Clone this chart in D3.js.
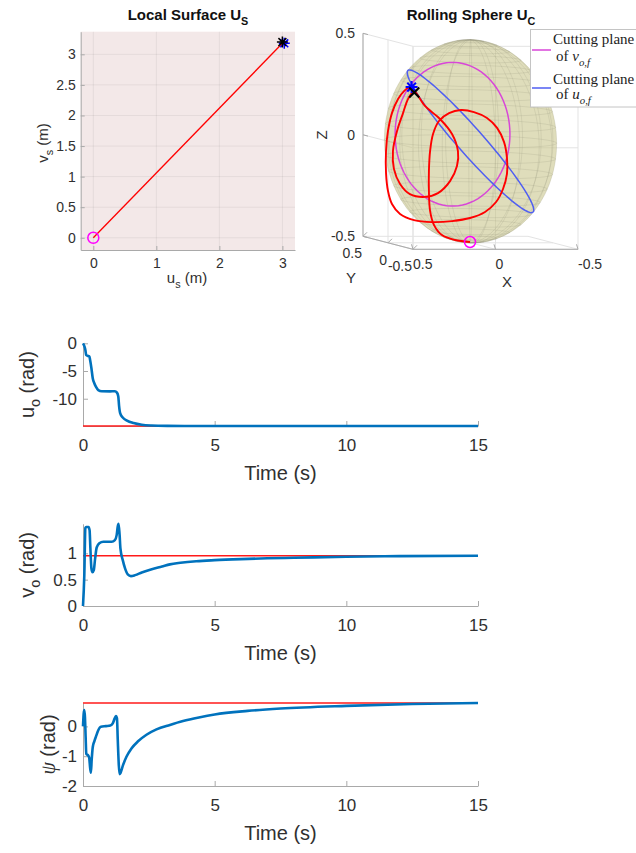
<!DOCTYPE html>
<html>
<head>
<meta charset="utf-8">
<script src="https://cdn.jsdelivr.net/npm/d3@7"></script>
<style>
  html, body { margin: 0; padding: 0; background: #ffffff; }
  svg { display: block; }
</style>
</head>
<body>
<svg id="fig" width="636" height="853"></svg>
<script>
// ---------------- data ----------------
// local surface trajectory (metres)
const surfaceU = [0, 3.0];
const surfaceV = [0, 3.18];
const surfaceStart = [0, 0];
const surfaceTarget = [3.03, 3.18];
const surfaceFinal = [3.0, 3.2];
const surfaceXTicks = [0, 1, 2, 3];
const surfaceYTicks = [0, 0.5, 1, 1.5, 2, 2.5, 3];

// rolling sphere (radius 0.5), contact path given in the X-Z view plane
const sphereRadius = 0.5;
const sphereTicks = [-0.5, 0, 0.5];
const pathX = [0.003, 0.094, 0.173, 0.221, 0.245, 0.252, 0.252, 0.245, 0.227, 0.191, 0.130, 0.058,
  -0.021, -0.100, -0.161, -0.203, -0.221, -0.221, -0.197, -0.155, -0.088, 0.003, 0.112, 0.233,
  0.342, 0.427, 0.476, 0.500, 0.512, 0.512, 0.500, 0.476, 0.439, 0.403, 0.367, 0.330, 0.276,
  0.185, 0.112, 0.076, 0.082, 0.124, 0.197, 0.276, 0.367, 0.427, 0.464, 0.470, 0.445, 0.409,
  0.379, 0.348];
const pathZ = [-0.496, -0.486, -0.462, -0.413, -0.343, -0.245, -0.146, -0.048, 0.036, 0.100, 0.139, 0.154,
  0.144, 0.115, 0.066, -0.003, -0.082, -0.161, -0.235, -0.299, -0.348, -0.378, -0.393, -0.398,
  -0.388, -0.358, -0.309, -0.245, -0.157, -0.048, 0.051, 0.139, 0.208, 0.247, 0.267, 0.238, 0.174,
  0.110, 0.036, -0.048, -0.122, -0.196, -0.255, -0.274, -0.260, -0.210, -0.136, -0.048, 0.051, 0.139,
  0.208, 0.248];
const sphereStart = [0.003, -0.496];
const sphereTarget = [0.357, 0.267];
const sphereFinal = [0.341, 0.240];
// cutting planes: [centre x, centre z, axis1 x, axis1 z, axis2 x, axis2 z]
const cutPlaneV = [0.109, 0.035, 0.348, 0, 0, 0.354];
const cutPlaneU = [0, 0, -0.379, -0.349, 0.059, -0.042];

// time histories
const timeTicks = [0, 5, 10, 15];
const tU = [0, 0.05, 0.09, 0.12, 0.17, 0.24, 0.27, 0.32, 0.37, 0.43, 0.50, 0.58, 0.71, 1.03, 1.21,
  1.29, 1.34, 1.37, 1.41, 1.51, 1.67, 1.92, 2.23, 2.6, 3.2, 4, 5, 15];
const uo = [0, -0.5, -1.2, -2.1, -2.25, -2.35, -3.0, -4.5, -6.3, -7.2, -7.9, -8.45, -8.65, -8.67, -8.65,
  -8.9, -9.6, -11.3, -12.6, -13.4, -13.95, -14.4, -14.7, -14.83, -14.89, -14.91, -14.92, -14.92];
const uoTarget = -14.92;
const uoTicks = [-10, -5, 0];

const tV = [0, 0.05, 0.09, 0.12, 0.21, 0.25, 0.28, 0.32, 0.36, 0.41, 0.46, 0.52, 0.62, 0.77, 1.09, 1.21,
  1.28, 1.32, 1.35, 1.39, 1.42, 1.51, 1.6, 1.7, 1.82, 1.98, 2.23, 2.55, 3.0, 3.3, 3.7, 4.3, 5, 6, 7, 8,
  10, 12, 15];
const vo = [0, 0.59, 1.48, 1.50, 1.50, 1.44, 1.10, 0.71, 0.64, 0.68, 0.90, 1.11, 1.19, 1.22, 1.22, 1.25,
  1.35, 1.51, 1.56, 1.35, 1.10, 0.87, 0.71, 0.60, 0.567, 0.586, 0.637, 0.69, 0.75, 0.79, 0.82, 0.85,
  0.87, 0.89, 0.905, 0.915, 0.935, 0.947, 0.955];
const voTarget = 0.955;
const voTicks = [0, 0.5, 1];

const tPsi = [0, 0.025, 0.05, 0.075, 0.1, 0.125, 0.2, 0.235, 0.27, 0.3, 0.33, 0.37, 0.43, 0.5, 0.56,
  0.68, 0.87, 1.04, 1.13, 1.2, 1.25, 1.29, 1.32, 1.36, 1.39, 1.42, 1.52, 1.65, 1.84, 2.09, 2.41, 2.79,
  3.3, 3.8, 4.4, 5, 6.25, 7.5, 10, 12.5, 15];
const psi = [0, 0.42, 0.55, 0.3, -0.35, -0.92, -0.98, -1.05, -1.38, -1.55, -1.12, -0.7, -0.5, -0.32,
  -0.17, -0.01, 0.01, 0.03, 0.1, 0.26, 0.35, 0.27, -0.45, -1.3, -1.6, -1.57, -1.3, -1.02, -0.74, -0.5,
  -0.28, -0.1, 0.05, 0.18, 0.3, 0.4, 0.52, 0.6, 0.69, 0.75, 0.785];
const psiTarget = 0.785;
const psiTicks = [-2, -1, 0];

// ---------------- helpers ----------------
const SANS = '"Liberation Sans", Arial, Helvetica, sans-serif';
const SERIF = '"Liberation Serif", "Times New Roman", serif';
const AXIS_GREY = '#a9a9a9';
const TEXT_GREY = '#303030';
const svg = d3.select('#fig');

// text made of plain / subscript / italic parts
function richText(sel, parts, size) {
  let shifted = 0;
  parts.forEach(([txt, mode, family]) => {
    const t = sel.append('tspan').text(txt);
    if (family) t.attr('font-family', family);
    if (mode === 'sub' || mode === 'subit') {
      t.attr('font-size', size * 0.72).attr('dy', size * 0.32 - shifted);
      if (mode === 'subit') t.attr('font-style', 'italic');
      shifted = size * 0.32;
    } else {
      if (shifted) t.attr('dy', -shifted);
      shifted = 0;
      if (mode === 'it') t.attr('font-style', 'italic');
    }
  });
  return sel;
}

function asterisk(cx, cy, r) {
  const d = r * 0.72;
  return `M${cx - r},${cy}L${cx + r},${cy}M${cx},${cy - r}L${cx},${cy + r}` +
         `M${cx - d},${cy - d}L${cx + d},${cy + d}M${cx - d},${cy + d}L${cx + d},${cy - d}`;
}
function cross(cx, cy, r) {
  return `M${cx - r},${cy - r}L${cx + r},${cy + r}M${cx - r},${cy + r}L${cx + r},${cy - r}`;
}
function styleAxis(a, size) {
  a.attr('font-family', SANS).attr('font-size', size);
  a.select('.domain').attr('stroke', AXIS_GREY);
  a.selectAll('.tick line').attr('stroke', AXIS_GREY);
  a.selectAll('.tick text').attr('fill', TEXT_GREY);
}

// ---------------- local surface panel ----------------
{
  const g = svg.append('g');
  const xs = d3.scaleLinear().domain([-0.2, 3.2]).range([80.7, 295]);
  const ys = d3.scaleLinear().domain([-0.2, 3.37]).range([250, 31.7]);

  g.append('rect')
    .attr('x', xs.range()[0]).attr('y', ys.range()[1])
    .attr('width', xs.range()[1] - xs.range()[0])
    .attr('height', ys.range()[0] - ys.range()[1])
    .attr('fill', '#f3e8e8');

  g.selectAll('line.gx').data(surfaceXTicks).join('line')
    .attr('x1', d => xs(d)).attr('x2', d => xs(d))
    .attr('y1', ys.range()[0]).attr('y2', ys.range()[1])
    .attr('stroke', '#000').attr('stroke-opacity', 0.06);
  g.selectAll('line.gy').data(surfaceYTicks).join('line')
    .attr('y1', d => ys(d)).attr('y2', d => ys(d))
    .attr('x1', xs.range()[0]).attr('x2', xs.range()[1])
    .attr('stroke', '#000').attr('stroke-opacity', 0.06);

  const ax = g.append('g').attr('transform', `translate(0,${ys.range()[0]})`)
    .call(d3.axisBottom(xs).tickValues(surfaceXTicks).tickSizeInner(-4).tickSizeOuter(0)
      .tickPadding(8).tickFormat(d => String(d)));
  const ay = g.append('g').attr('transform', `translate(${xs.range()[0]},0)`)
    .call(d3.axisLeft(ys).tickValues(surfaceYTicks).tickSizeInner(-4).tickSizeOuter(0)
      .tickPadding(5).tickFormat(d => String(d)));
  styleAxis(ax, 14); styleAxis(ay, 14);

  g.append('path')
    .datum(surfaceU.map((u, i) => [u, surfaceV[i]]))
    .attr('d', d3.line().x(d => xs(d[0])).y(d => ys(d[1])))
    .attr('fill', 'none').attr('stroke', '#ff0000').attr('stroke-width', 1.3);

  g.append('circle').attr('cx', xs(surfaceStart[0])).attr('cy', ys(surfaceStart[1])).attr('r', 5.5)
    .attr('fill', 'none').attr('stroke', '#ff00ff').attr('stroke-width', 1.5);
  g.append('path').attr('d', asterisk(xs(surfaceTarget[0]), ys(surfaceTarget[1]), 5.5))
    .attr('stroke', '#0000ff').attr('stroke-width', 1.5);
  g.append('path').attr('d', asterisk(xs(surfaceFinal[0]), ys(surfaceFinal[1]), 5.5))
    .attr('stroke', '#000').attr('stroke-width', 1.5);

  richText(g.append('text').attr('x', 188).attr('y', 20).attr('text-anchor', 'middle')
    .attr('font-family', SANS).attr('font-weight', 'bold').attr('font-size', 15).attr('fill', '#111'),
    [['Local Surface U'], ['S', 'sub']], 15);
  richText(g.append('text').attr('x', 187).attr('y', 283).attr('text-anchor', 'middle')
    .attr('font-family', SANS).attr('font-size', 15).attr('fill', TEXT_GREY),
    [['u'], ['s', 'sub'], [' (m)']], 15);
  richText(g.append('text').attr('transform', 'translate(48,143) rotate(-90)').attr('text-anchor', 'middle')
    .attr('font-family', SANS).attr('font-size', 15).attr('fill', TEXT_GREY),
    [['v'], ['s', 'sub'], [' (m)']], 15);
}

// ---------------- rolling sphere panel ----------------
{
  const g = svg.append('g');
  // oblique projection of the X, Y, Z axes onto the page
  const sx = d3.scaleLinear().domain([0.5, -0.5]).range([413, 578]);
  const sz = d3.scaleLinear().domain([-0.5, 0.5]).range([249.3, 46.3]);
  const syH = d3.scaleLinear().domain([-0.5, 0.5]).range([0, -50]);
  const syV = d3.scaleLinear().domain([-0.5, 0.5]).range([0, -13]);
  const proj = (x, y, z) => [sx(x) + syH(y), sz(z) + syV(y)];
  const line = d3.line();

  // grid on the back walls and floor
  const walls = [];
  sphereTicks.forEach(v => {
    walls.push([proj(0.5, v, -0.5), proj(0.5, v, 0.5)]);     // x = 0.5 wall
    walls.push([proj(0.5, -0.5, v), proj(0.5, 0.5, v)]);
    walls.push([proj(v, -0.5, -0.5), proj(v, -0.5, 0.5)]);   // y = -0.5 wall
    walls.push([proj(0.5, -0.5, v), proj(-0.5, -0.5, v)]);
    walls.push([proj(v, -0.5, -0.5), proj(v, 0.5, -0.5)]);   // floor
    walls.push([proj(0.5, v, -0.5), proj(-0.5, v, -0.5)]);
  });
  g.selectAll('path.wall').data(walls).join('path')
    .attr('d', line).attr('fill', 'none').attr('stroke', '#e3e3e3').attr('stroke-width', 1);

  // axis lines
  const axes = [
    [proj(0.5, 0.5, -0.5), proj(0.5, 0.5, 0.5)],
    [proj(0.5, 0.5, -0.5), proj(0.5, -0.5, -0.5)],
    [proj(0.5, -0.5, -0.5), proj(-0.5, -0.5, -0.5)]
  ];
  g.selectAll('path.axis').data(axes).join('path')
    .attr('d', line).attr('fill', 'none').attr('stroke', AXIS_GREY).attr('stroke-width', 1);

  // tick marks and labels
  const lbl = g.append('g').attr('font-family', SANS).attr('font-size', 14).attr('fill', TEXT_GREY);
  sphereTicks.forEach(v => {
    const pz = proj(0.5, 0.5, v);
    g.append('path').attr('d', line([pz, [pz[0] + 5, pz[1] + 1.3]])).attr('stroke', AXIS_GREY);
    lbl.append('text').attr('x', pz[0] - 8).attr('y', pz[1] + 5).attr('text-anchor', 'end').text(String(v));
    const py = proj(0.5, v, -0.5);
    g.append('path').attr('d', line([py, [py[0] + 4, py[1] - 4]])).attr('stroke', AXIS_GREY);
    lbl.append('text').attr('x', py[0] - 1).attr('y', py[1] + 22).attr('text-anchor', 'end').text(String(v));
    const px = proj(v, -0.5, -0.5);
    g.append('path').attr('d', line([px, [px[0] - 1.5, px[1] - 5]])).attr('stroke', AXIS_GREY);
    lbl.append('text').attr('x', px[0]).attr('y', px[1] + 20).attr('text-anchor', 'start').text(String(v));
  });
  lbl.append('text').attr('x', 351).attr('y', 283).attr('text-anchor', 'middle').attr('font-size', 15).text('Y');
  lbl.append('text').attr('x', 507).attr('y', 287).attr('text-anchor', 'middle').attr('font-size', 15).text('X');
  lbl.append('text').attr('transform', 'translate(327,135) rotate(-90)').attr('text-anchor', 'middle')
    .attr('font-size', 15).text('Z');

  // sphere silhouette from the projection's view direction
  const c0 = proj(0, 0, 0);
  const col = (ax) => [proj(...ax)[0] - c0[0], proj(...ax)[1] - c0[1]];
  const ex = col([1, 0, 0]), ey = col([0, 1, 0]), ez = col([0, 0, 1]);
  const rowA = [ex[0], ey[0], ez[0]], rowB = [ex[1], ey[1], ez[1]];
  const crossV = (a, b) => [a[1] * b[2] - a[2] * b[1], a[2] * b[0] - a[0] * b[2], a[0] * b[1] - a[1] * b[0]];
  const norm = a => { const l = Math.hypot(...a); return a.map(v => v / l); };
  const view = norm(crossV(rowA, rowB));
  const e1 = norm(crossV(view, [0, 0, 1]));
  const e2 = crossV(view, e1);
  const outline = d3.range(0, 361, 3).map(a => {
    const t = a * Math.PI / 180;
    const p = [0, 1, 2].map(k => sphereRadius * (Math.cos(t) * e1[k] + Math.sin(t) * e2[k]));
    return proj(...p);
  });
  g.append('path').attr('d', line(outline) + 'Z')
    .attr('fill', '#c8c48a').attr('fill-opacity', 0.58).attr('stroke', 'none');

  // latitude / longitude mesh
  const mesh = [];
  for (let lat = -81; lat <= 81; lat += 9) {
    const f = lat * Math.PI / 180;
    mesh.push(d3.range(0, 361, 6).map(a => {
      const t = a * Math.PI / 180;
      return proj(sphereRadius * Math.cos(f) * Math.cos(t), sphereRadius * Math.cos(f) * Math.sin(t), sphereRadius * Math.sin(f));
    }));
  }
  for (let lon = 0; lon < 360; lon += 18) {
    const t = lon * Math.PI / 180;
    mesh.push(d3.range(-90, 91, 6).map(a => {
      const f = a * Math.PI / 180;
      return proj(sphereRadius * Math.cos(f) * Math.cos(t), sphereRadius * Math.cos(f) * Math.sin(t), sphereRadius * Math.sin(f));
    }));
  }
  g.selectAll('path.mesh').data(mesh).join('path')
    .attr('d', line).attr('fill', 'none').attr('stroke', '#8a8a72').attr('stroke-opacity', 0.22).attr('stroke-width', 0.8);

  // cutting planes
  const planeLine = d3.line().x(d => proj(d[0], 0, d[1])[0]).y(d => proj(d[0], 0, d[1])[1]);
  const ellipse = p => d3.range(0, 361, 4).map(a => {
    const t = a * Math.PI / 180;
    return [p[0] + Math.cos(t) * p[2] + Math.sin(t) * p[4], p[1] + Math.cos(t) * p[3] + Math.sin(t) * p[5]];
  });
  g.append('path').datum(ellipse(cutPlaneV)).attr('d', planeLine)
    .attr('fill', 'none').attr('stroke', '#d846d8').attr('stroke-width', 1.5);
  g.append('path').datum(ellipse(cutPlaneU)).attr('d', planeLine)
    .attr('fill', 'none').attr('stroke', '#4f5ef2').attr('stroke-width', 1.5);

  // contact path
  g.append('path').datum(pathX.map((x, i) => [x, pathZ[i]]))
    .attr('d', planeLine.curve(d3.curveCatmullRom.alpha(0.5)))
    .attr('fill', 'none').attr('stroke', '#ff0000').attr('stroke-width', 1.9);

  const s = proj(sphereStart[0], 0, sphereStart[1]);
  g.append('circle').attr('cx', s[0]).attr('cy', s[1]).attr('r', 5.5)
    .attr('fill', 'none').attr('stroke', '#ff00ff').attr('stroke-width', 1.5);
  const tg = proj(sphereTarget[0], 0, sphereTarget[1]);
  g.append('path').attr('d', asterisk(tg[0], tg[1], 6)).attr('stroke', '#0000ff').attr('stroke-width', 2);
  const fn = proj(sphereFinal[0], 0, sphereFinal[1]);
  g.append('path').attr('d', cross(fn[0], fn[1], 5)).attr('stroke', '#000').attr('stroke-width', 2);

  richText(g.append('text').attr('x', 471).attr('y', 20).attr('text-anchor', 'middle')
    .attr('font-family', SANS).attr('font-weight', 'bold').attr('font-size', 15).attr('fill', '#111'),
    [['Rolling Sphere U'], ['C', 'sub']], 15);

  // legend
  const lg = g.append('g');
  lg.append('rect').attr('x', 530.5).attr('y', 29.5).attr('width', 130).attr('height', 77.5)
    .attr('fill', '#fff').attr('stroke', '#c4c4c4');
  const entries = [['#d846d8', 'v', 44, 61, 50], ['#4f5ef2', 'u', 84, 99, 88]];
  entries.forEach(([c, sym, y1, y2, yl]) => {
    lg.append('line').attr('x1', 532).attr('x2', 551).attr('y1', yl).attr('y2', yl)
      .attr('stroke', c).attr('stroke-width', 1.5);
    lg.append('text').attr('x', 553).attr('y', y1).attr('font-family', SERIF).attr('font-size', 15)
      .attr('fill', '#222').text('Cutting plane');
    richText(lg.append('text').attr('x', 556).attr('y', y2).attr('font-family', SERIF).attr('font-size', 15)
      .attr('fill', '#222'), [['of '], [sym, 'it'], ['o,f', 'subit']], 15);
  });
}

// ---------------- time history panels ----------------
function timePanel(o) {
  const g = svg.append('g');
  const x = d3.scaleLinear().domain([0, 15]).range([83, 478]);
  const y = d3.scaleLinear().domain(o.domain).range([o.bottom, o.top]);

  const ax = g.append('g').attr('transform', `translate(0,${o.bottom})`)
    .call(d3.axisBottom(x).tickValues(timeTicks).tickSizeInner(-5).tickSizeOuter(0)
      .tickPadding(13).tickFormat(d => String(d)));
  const ay = g.append('g').attr('transform', `translate(${x.range()[0]},0)`)
    .call(d3.axisLeft(y).tickValues(o.ticks).tickSizeInner(-5).tickSizeOuter(0)
      .tickPadding(6).tickFormat(d => String(d)));
  styleAxis(ax, 17); styleAxis(ay, 17);

  g.append('path').datum(timeTicks.filter((d, i) => i === 0 || i === timeTicks.length - 1))
    .attr('d', d3.line().x(d => x(d)).y(() => y(o.target)))
    .attr('fill', 'none').attr('stroke', '#ff1a1a').attr('stroke-width', 1.6);
  g.append('path').datum(o.t.map((t, i) => [t, o.v[i]]))
    .attr('d', d3.line().x(d => x(d[0])).y(d => y(d[1])).curve(d3.curveMonotoneX))
    .attr('fill', 'none').attr('stroke', '#0072bd').attr('stroke-width', 2.6).attr('stroke-linejoin', 'round');

  g.append('text').attr('x', (x.range()[0] + x.range()[1]) / 2).attr('y', o.bottom + 54)
    .attr('text-anchor', 'middle').attr('font-family', SANS).attr('font-size', 20).attr('fill', TEXT_GREY)
    .text('Time (s)');
  const yl = g.append('text')
    .attr('transform', `translate(${o.labelX},${(o.top + o.bottom) / 2}) rotate(-90)`)
    .attr('text-anchor', 'middle').attr('font-family', SANS).attr('font-size', 20).attr('fill', TEXT_GREY);
  richText(yl, o.label, 20);
}

timePanel({ t: tU, v: uo, target: uoTarget, domain: [uoTarget, 0], ticks: uoTicks,
  top: 343.3, bottom: 426, labelX: 34, label: [['u'], ['o', 'sub'], [' (rad)']] });
timePanel({ t: tV, v: vo, target: voTarget, domain: [0, 1.56], ticks: voTicks,
  top: 523.8, bottom: 606, labelX: 34, label: [['v'], ['o', 'sub'], [' (rad)']] });
timePanel({ t: tPsi, v: psi, target: psiTarget, domain: [-2, psiTarget], ticks: psiTicks,
  top: 703, bottom: 786, labelX: 55, label: [['\u03c8', 'it', SERIF], [' (rad)']] });
</script>
</body>
</html>
